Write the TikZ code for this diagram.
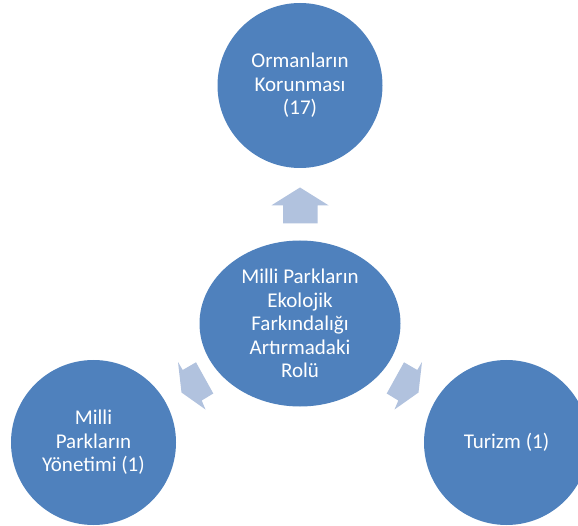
\documentclass[tikz,border=0pt]{standalone}
\usepackage{fontspec}
\setmainfont{Carlito}
\usetikzlibrary{shapes.geometric}
\definecolor{circblue}{HTML}{4F81BD}
\definecolor{arrowblue}{HTML}{B1C2DE}
\begin{document}
\begin{tikzpicture}[x=1pt,y=-1pt,
  bubble/.style={circle, fill=circblue, text=white, minimum size=165pt, inner sep=0pt,
    align=center, font=\fontsize{21}{23.5}\selectfont},
  blockarrow/.style={fill=arrowblue, draw=none}]
\useasboundingbox (0,0) rectangle (578,526);
\clip (0,0) rectangle (578,526);
\node[bubble] (top) at (300,85.5) {Ormanların\\Korunması\\(17)};
\node[bubble, ellipse, minimum width=201pt, minimum height=166pt] (center) at (300,323.5)
  {Milli Parkların\\Ekolojik\\Farkındalığı\\Artırmadaki\\Rolü};
\node[bubble] (left) at (93.5,442.5) {Milli\\Parkların\\Yönetimi (1)};
\node[bubble] (right) at (506.5,442.5) {Turizm (1)};
% block arrows
\path[blockarrow] (300,187.5) -- (328.5,205.3) -- (317.5,205.3) -- (317.5,223.3)
  -- (283,223.3) -- (283,205.3) -- (271.5,205.3) -- cycle;
\path[blockarrow] (178,362) -- (182.7,370) -- (196,362.3) -- (213.3,393.5)
  -- (201.7,400.5) -- (205.5,409.5) -- (181.5,392.5) -- cycle;
\path[blockarrow] (422,362) -- (417.3,370) -- (404,362.3) -- (386.7,393.5)
  -- (398.3,400.5) -- (394.5,409.5) -- (418.5,392.5) -- cycle;
\end{tikzpicture}
\end{document}
